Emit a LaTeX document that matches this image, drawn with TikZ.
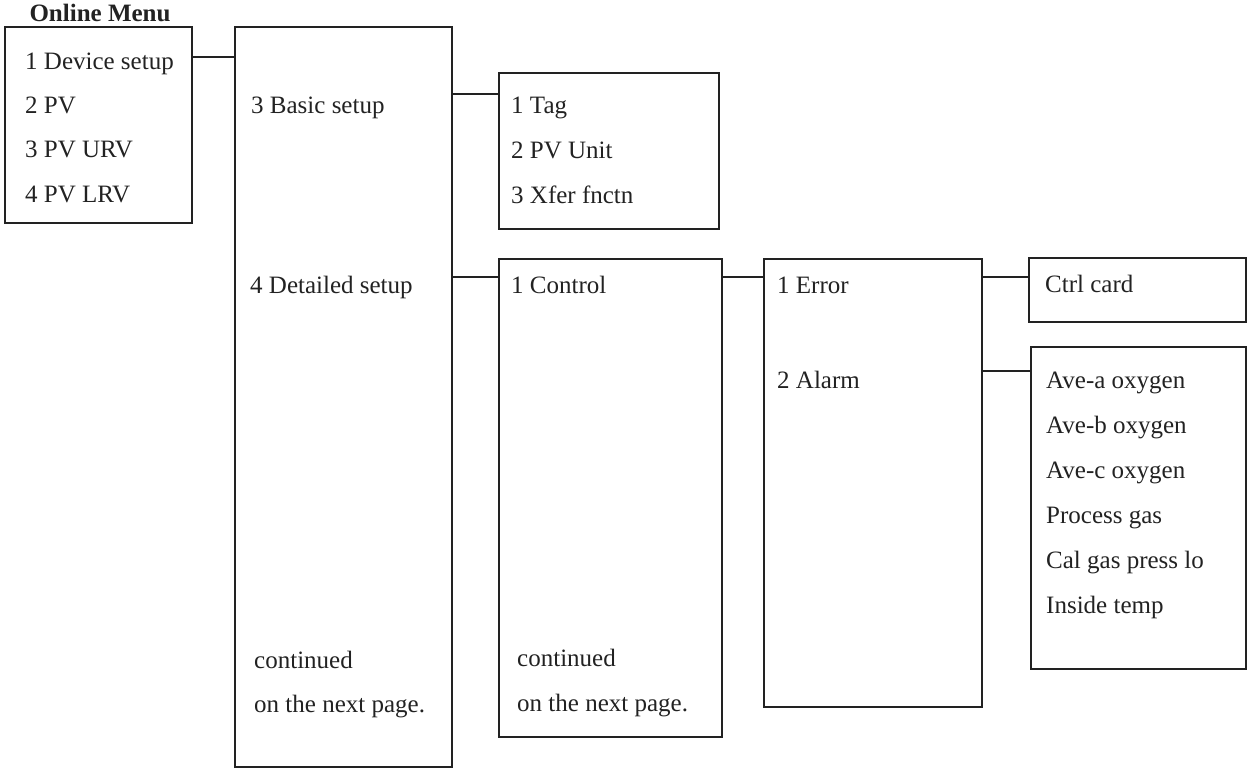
\documentclass[tikz,border=0pt]{standalone}
\usepackage{fontspec}
\setmainfont{Liberation Serif}
\definecolor{ink}{HTML}{222222}
\begin{document}
\begin{tikzpicture}[x=1pt,y=-1pt,
  box/.style={draw=ink, line width=1.6pt, anchor=north west, inner sep=0pt, outer sep=0pt},
  lbl/.style={anchor=base west, inner sep=0pt, font=\fontsize{25}{30}\selectfont, text=ink},
  ttl/.style={anchor=base, inner sep=0pt, font=\fontsize{25}{30}\selectfont\bfseries, text=ink},
  link/.style={draw=ink, line width=1.6pt}]
\useasboundingbox (0,0) rectangle (1248,769);
% title
\node[ttl] (title) at (100,21) {Online Menu};
% boxes
\node[box, minimum width=187pt, minimum height=196pt] (b1) at (5,27) {};
\node[box, minimum width=217pt, minimum height=740pt] (b2) at (235,27) {};
\node[box, minimum width=220pt, minimum height=156pt] (b3) at (499,73) {};
\node[box, minimum width=223pt, minimum height=478pt] (b4) at (499,259) {};
\node[box, minimum width=218pt, minimum height=448pt] (b5) at (764,259) {};
\node[box, minimum width=217pt, minimum height=64pt] (b6) at (1029,258) {};
\node[box, minimum width=215pt, minimum height=322pt] (b7) at (1031,347) {};
% box 1 texts
\node[lbl] (t11) at (25,69) {1 Device setup};
\node[lbl] (t12) at (25,113) {2 PV};
\node[lbl] (t13) at (25,157) {3 PV URV};
\node[lbl] (t14) at (25,202) {4 PV LRV};
% box 2 texts
\node[lbl] (t21) at (251,113) {3 Basic setup};
\node[lbl] (t22) at (250,293) {4 Detailed setup};
\node[lbl] (t23) at (254,668) {continued};
\node[lbl] (t24) at (254,712) {on the next page.};
% box 3 texts
\node[lbl] (t31) at (511,113) {1 Tag};
\node[lbl] (t32) at (511,158) {2 PV Unit};
\node[lbl] (t33) at (511,203) {3 Xfer fnctn};
% box 4 texts
\node[lbl] (t41) at (511,293) {1 Control};
\node[lbl] (t42) at (517,666) {continued};
\node[lbl] (t43) at (517,711) {on the next page.};
% box 5 texts
\node[lbl] (t51) at (777,293) {1 Error};
\node[lbl] (t52) at (777,388) {2 Alarm};
% box 6 text
\node[lbl] (t61) at (1045,292) {Ctrl card};
% box 7 texts
\node[lbl] (t71) at (1046,388) {Ave-a oxygen};
\node[lbl] (t72) at (1046,433) {Ave-b oxygen};
\node[lbl] (t73) at (1046,478) {Ave-c oxygen};
\node[lbl] (t74) at (1046,523) {Process gas};
\node[lbl] (t75) at (1046,568) {Cal gas press lo};
\node[lbl] (t76) at (1046,613) {Inside temp};
% connector levels
\coordinate (y1) at (0,57);
\coordinate (y2) at (0,94);
\coordinate (y3) at (0,277);
\coordinate (y4) at (0,371);
% connectors
\draw[link] (b1.east |- y1) -- (b2.west |- y1);
\draw[link] (b2.east |- y2) -- (b3.west |- y2);
\draw[link] (b2.east |- y3) -- (b4.west |- y3);
\draw[link] (b4.east |- y3) -- (b5.west |- y3);
\draw[link] (b5.east |- y3) -- (b6.west |- y3);
\draw[link] (b5.east |- y4) -- (b7.west |- y4);
\end{tikzpicture}
\end{document}
